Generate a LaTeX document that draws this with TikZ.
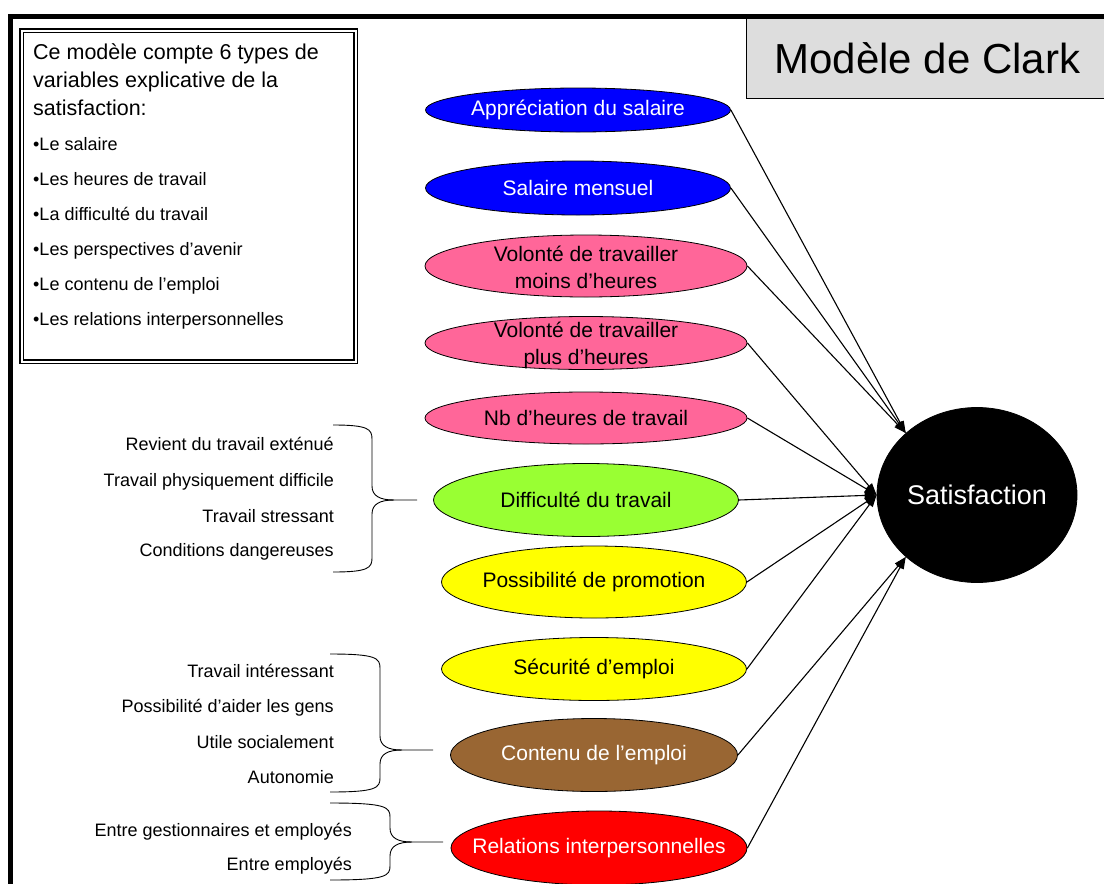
\documentclass[tikz,border=0pt]{standalone}
\usepackage{fontspec}
\setmainfont{Liberation Sans}
\usetikzlibrary{shapes.geometric}
\usetikzlibrary{arrows.meta}
\definecolor{bleu}{HTML}{0000FF}
\definecolor{rose}{HTML}{FF6699}
\definecolor{vert}{HTML}{99FF33}
\definecolor{jaune}{HTML}{FFFF00}
\definecolor{brun}{HTML}{996633}
\definecolor{rouge}{HTML}{FF0000}
\definecolor{grisclair}{HTML}{DDDDDD}
\tikzset{
  ell/.style={draw, ellipse, inner sep=0pt, line width=0.8pt},
  etxt/.style={font=\fontsize{21}{27}\selectfont, align=center, inner sep=0pt},
  tete/.style={font=\fontsize{21.5}{27}\selectfont, anchor=base west, inner sep=0pt},
  puce/.style={font=\fontsize{18}{22}\selectfont, anchor=base west, inner sep=0pt},
  sous/.style={font=\fontsize{18}{22}\selectfont, anchor=base east, inner sep=0pt},
  fl/.style={-{Triangle[length=12pt,width=8pt]}, line width=1.1pt},
  accolade/.style={line width=0.9pt}
}
% accolade: x gauche, y haut, y bas, x vertical, y pointe, x fin
\newcommand{\accol}[6]{%
  \draw[accolade] (#1,#2) .. controls ({#4-4},#2) and (#4,{#2+4}) .. (#4,{#2+14}) -- (#4,{#5-14}) .. controls (#4,{#5-4}) and ({#4+8},#5) .. ({#4+22},#5) -- (#6,#5);
  \draw[accolade] ({#4+22},#5) .. controls ({#4+8},#5) and (#4,{#5+4}) .. (#4,{#5+14}) -- (#4,{#3-14}) .. controls (#4,{#3-4}) and ({#4-4},#3) .. (#1,#3);
}
\begin{document}
\begin{tikzpicture}[x=1pt, y=-1pt]
\useasboundingbox (0,0) rectangle (1104,884);
% encadre de gauche
\node[draw, double, line width=1.3pt, double distance=2.2pt, minimum width=334pt, minimum height=331pt, anchor=north west] (cadre) at (21,30) {};
\node[tete] (t1) at (33,59) {Ce modèle compte 6 types de};
\node[tete] (t2) at (33,87) {variables explicative de la};
\node[tete] (t3) at (33,115) {satisfaction:};
\foreach \txt [count=\i] in {Le salaire, Les heures de travail, La difficulté du travail, Les perspectives d’avenir, Le contenu de l’emploi, Les relations interpersonnelles}
  \node[puce] (p\i) at (33,{115+35*\i}) {\textbullet\txt};
% titre
\node[fill=grisclair, draw, line width=0.8pt, minimum width=362pt, minimum height=81pt, anchor=north west, font=\fontsize{42}{48}\selectfont, inner sep=0pt] (titre) at (746,17) {Modèle de Clark};
\draw[line width=5pt] (10,890) -- (10,16.5) -- (1110,16.5);
% variables
\node[ell, fill=bleu, minimum width=305pt, minimum height=44pt] (salapp) at (578,110) {};
\node[etxt, text=white] (salappt) at (salapp) {Appréciation du salaire};
\node[ell, fill=bleu, minimum width=305pt, minimum height=54pt] (salmen) at (578,188) {};
\node[etxt, text=white] (salment) at (salmen) {Salaire mensuel};
\node[ell, fill=rose, minimum width=322pt, minimum height=62pt] (moins) at (586,266) {};
\node[etxt] (moinst) at (586,267) {Volonté de travailler\\moins d’heures};
\node[ell, fill=rose, minimum width=322pt, minimum height=53pt] (plus) at (586,343) {};
\node[etxt] (plust) at (586,345) {Volonté de travailler\\plus d’heures};
\node[ell, fill=rose, minimum width=322pt, minimum height=52pt] (nbh) at (586,418) {};
\node[etxt] (nbht) at (nbh) {Nb d’heures de travail};
\node[ell, fill=vert, minimum width=305pt, minimum height=73pt] (diff) at (586,500) {};
\node[etxt] (difft) at (diff) {Difficulté du travail};
\node[ell, fill=jaune, minimum width=305pt, minimum height=72pt] (promo) at (594,582) {};
\node[etxt] (promot) at (promo) {Possibilité de promotion};
\node[ell, fill=jaune, minimum width=305pt, minimum height=63pt] (secu) at (594,669) {};
\node[etxt] (secut) at (secu) {Sécurité d’emploi};
\node[ell, fill=brun, minimum width=287pt, minimum height=73pt] (contenu) at (594,755) {};
\node[etxt, text=white] (contenut) at (contenu) {Contenu de l’emploi};
\node[ell, fill=rouge, minimum width=296pt, minimum height=74pt] (relat) at (599,848) {};
\node[etxt, text=white] (relatt) at (relat) {Relations interpersonnelles};
% satisfaction
\node[ell, fill=black, minimum width=200pt, minimum height=175pt] (sat) at (977,495) {};
\node[etxt, text=white, font=\fontsize{27}{32}\selectfont] (satt) at (sat) {Satisfaction};
\foreach \e in {salapp, salmen, moins}
  \draw[fl] (\e.east) -- (sat.139);
\foreach \e in {plus, nbh, diff, promo, secu}
  \draw[fl] (\e.east) -- (sat.west);
\foreach \e in {contenu, relat}
  \draw[fl] (\e.east) -- (sat.221);
% sous-variables
\foreach \txt/\y [count=\i] in {Revient du travail exténué/450, Travail physiquement difficile/486, Travail stressant/522, Conditions dangereuses/556}
  \node[sous] (d\i) at (334,\y) {\txt};
\accol{333}{425}{572}{372}{500}{417}
\foreach \txt/\y [count=\i] in {Travail intéressant/677, Possibilité d’aider les gens/712, Utile socialement/748, Autonomie/783}
  \node[sous] (c\i) at (334,\y) {\txt};
\accol{330}{654}{792}{380}{750}{433}
\foreach \txt/\y [count=\i] in {Entre gestionnaires et employés/836, Entre employés/870}
  \node[sous] (r\i) at (352,\y) {\txt};
\accol{330}{803}{880}{390}{842}{443}
\end{tikzpicture}
\end{document}
